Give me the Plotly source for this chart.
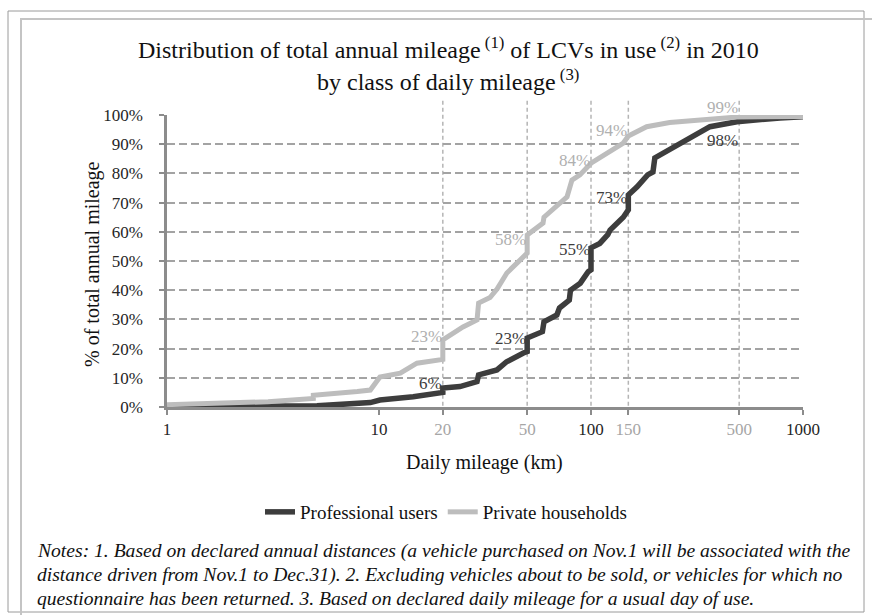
import math
import plotly.graph_objects as go

# ---- data ----
pro_km = [1, 3, 5.1, 9.1, 10.1, 14.5, 19.4, 20, 20, 24.1, 29, 29.5, 36, 40, 48, 50, 50,
          59, 60, 69, 71, 79, 80, 89, 97, 100, 100, 110, 120, 123, 142, 150, 150,
          165, 185, 196, 200, 244, 284, 316, 364, 488, 581, 779, 1000]
pro_pct = [0, 0, 0.4, 1.5, 2.4, 3.5, 4.7, 5.0, 6.5, 7.0, 8.7, 11, 12.7, 15.5, 18.5, 19, 23.6,
           25.8, 29.2, 31.5, 33.9, 36.6, 40, 42.4, 46.3, 47, 54.5, 56, 59, 60.6, 65, 67.5, 72.6,
           75.4, 79.5, 80.5, 85.3, 89, 91.4, 93.8, 96, 97.7, 98.3, 99, 99.4]

priv_km = [1, 3, 4.9, 4.9, 7.9, 9.1, 10.1, 12.6, 15.1, 19.4, 20, 20, 24.9, 29, 29.5, 33.4,
           36.1, 40.1, 44.8, 50, 50, 59.4, 60, 67.6, 77.1, 81.3, 88.7, 100, 118, 142, 150,
           183, 235, 336, 488, 1000]
priv_pct = [0.8, 1.8, 2.9, 4.0, 5.3, 5.8, 10.3, 11.6, 15.0, 16.0, 16.3, 23.0, 27.4, 29.8, 35.6, 37.5,
            40.5, 45.9, 49.5, 52.7, 58.9, 63.0, 65.0, 68.6, 72.0, 77.7, 79.5, 83.5, 87.0, 90.4, 92.8,
            96.0, 97.4, 98.3, 99.3, 99.5]

series_names = ["Professional users", "Private households"]
series_colors = ["#3d3d3d", "#bdbdbd"]
label_colors = ["#3d3d3d", "#b0b0b0"]

# value labels: (km, y position in %, text)
pro_labels_km = [20, 50, 100, 150, 500]
pro_labels_y = [7.9, 23.6, 54.0, 71.6, 91.4]
pro_labels_txt = ["6%", "23%", "55%", "73%", "98%"]
priv_labels_km = [20, 50, 100, 150, 500]
priv_labels_y = [24.0, 57.2, 84.5, 94.6, 102.4]
priv_labels_txt = ["23%", "58%", "84%", "94%", "99%"]

x_tickvals = [1, 10, 20, 50, 100, 150, 500, 1000]
x_major = [1, 10, 100, 1000]
vgrid_km = [20, 50, 100, 150, 500]
y_tickvals = list(range(0, 101, 10))

notes_lines = [
    "Notes: 1. Based on declared annual distances (a vehicle purchased on Nov.1 will be associated with the",
    "distance driven from Nov.1 to Dec.31). 2. Excluding vehicles about to be sold, or vehicles for which no",
    "questionnaire has been returned. 3. Based on declared daily mileage for a usual day of use.",
]

SERIF = "Liberation Serif"
DARK_TXT = "#262626"
GREY_TXT = "#a6a6a6"

fig = go.Figure()
fig.add_trace(go.Scatter(x=pro_km, y=pro_pct, mode="lines", name=series_names[0],
                         line=dict(color=series_colors[0], width=5.5)))
fig.add_trace(go.Scatter(x=priv_km, y=priv_pct, mode="lines", name=series_names[1],
                         line=dict(color=series_colors[1], width=5)))

ticktext = [str(v) if v in x_major else f"<span style='color:{GREY_TXT}'>{v}</span>"
            for v in x_tickvals]

fig.update_xaxes(type="log", range=[0, 3], tickvals=x_tickvals, ticktext=ticktext,
                 showgrid=False, zeroline=False, showline=True, linecolor="#8c8c8c",
                 linewidth=2.5, ticks="outside", ticklen=5, tickcolor="#8c8c8c", tickwidth=1.5,
                 ticklabelstandoff=0,
                 tickfont=dict(family=SERIF, size=17, color=DARK_TXT))
fig.update_yaxes(range=[0, 100], tickvals=y_tickvals,
                 ticktext=[f"{v}%" for v in y_tickvals],
                 showgrid=True, gridcolor="#a3a3a3", gridwidth=1.6, griddash="8px,4px",
                 zeroline=False, showline=True, linecolor="#8c8c8c", linewidth=2.5,
                 ticks="outside", ticklen=5, tickcolor="#8c8c8c", tickwidth=1.5,
                 ticklabelstandoff=13,
                 tickfont=dict(family=SERIF, size=17, color=DARK_TXT))


def py(pix):
    return (407 - pix) / 292


def px(pix):
    return (pix - 167) / 636


shapes = []
for v in vgrid_km:
    shapes.append(dict(type="line", xref="x", yref="paper", x0=v, x1=v, y0=-0.02, y1=1.05,
                       line=dict(color="#b5b5b5", width=1.5, dash="4px,3px"), layer="below"))
# frame lines
shapes.append(dict(type="rect", xref="paper", yref="paper",
                   x0=px(8), x1=px(864), y0=py(612), y1=py(11),
                   line=dict(color="#9a9a9a", width=1)))
shapes.append(dict(type="rect", xref="paper", yref="paper",
                   x0=px(21), x1=px(890), y0=py(640), y1=py(19),
                   line=dict(color="#c4c4c4", width=2)))

ann = []
for kms, ys, ts, col in [(pro_labels_km, pro_labels_y, pro_labels_txt, label_colors[0]),
                         (priv_labels_km, priv_labels_y, priv_labels_txt, label_colors[1])]:
    for km, y, t in zip(kms, ys, ts):
        ann.append(dict(x=math.log10(km), y=y / 100.0, xref="x", yref="paper", text=t,
                        showarrow=False, xanchor="right", yanchor="middle", xshift=1,
                        font=dict(family=SERIF, size=17, color=col)))

ann.append(dict(xref="paper", yref="paper", x=px(448), y=py(48), showarrow=False,
                text="Distribution of total annual mileage<sup> (1)</sup> of LCVs in use<sup> (2)</sup> in 2010",
                font=dict(family=SERIF, size=24, color="#111111"), xanchor="center", yanchor="middle"))
ann.append(dict(xref="paper", yref="paper", x=px(448), y=py(80), showarrow=False,
                text="by class of daily mileage<sup> (3)</sup>",
                font=dict(family=SERIF, size=24, color="#111111"), xanchor="center", yanchor="middle"))
ann.append(dict(xref="paper", yref="paper", x=px(92), y=py(264), showarrow=False,
                text="% of total annual mileage", textangle=-90,
                font=dict(family=SERIF, size=20, color="#111111"), xanchor="center", yanchor="middle"))
ann.append(dict(xref="paper", yref="paper", x=px(484), y=py(462), showarrow=False,
                text="Daily mileage (km)",
                font=dict(family=SERIF, size=20, color="#111111"), xanchor="center", yanchor="middle"))
for i, line in enumerate(notes_lines):
    ann.append(dict(xref="paper", yref="paper", x=px(35), y=py(551 + 23.5 * i), showarrow=False,
                    align="left", xanchor="left", yanchor="middle",
                    text=f"<i>{line}</i>",
                    font=dict(family=SERIF, size=19.6, color="#111111")))

fig.update_layout(
    width=872, height=615,
    margin=dict(l=167, r=69, t=115, b=208),
    paper_bgcolor="white", plot_bgcolor="white",
    shapes=shapes, annotations=ann,
    showlegend=True,
    legend=dict(orientation="h", x=px(446), y=py(512), xanchor="center", yanchor="middle",
                font=dict(family=SERIF, size=19, color="#111111"),
                itemwidth=30, tracegroupgap=0, bgcolor="rgba(0,0,0,0)"),
)

fig.write_html("out.html", config={"displayModeBar": False},
               post_script="document.body.style.margin='0';document.body.style.padding='0';")
